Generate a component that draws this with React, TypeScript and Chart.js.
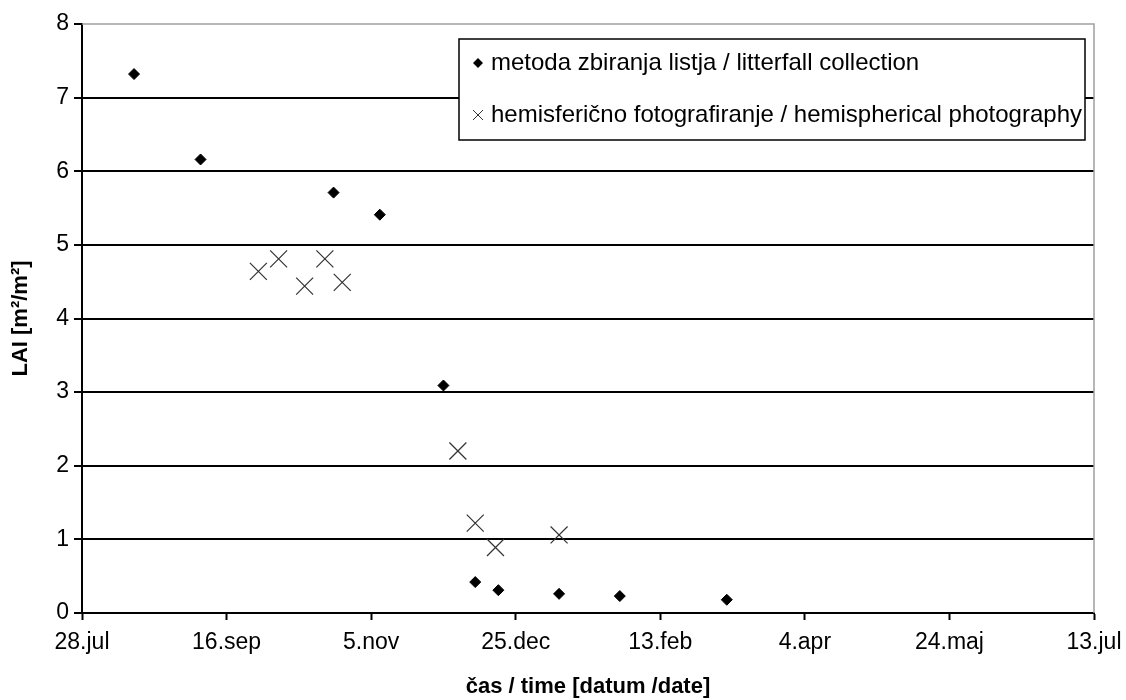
import React, { useEffect, useRef } from "react";
import { Chart, registerables } from "chart.js";

Chart.register(...registerables);

// x values are days counted from 28 July
const tickLabels = ["28.jul", "16.sep", "5.nov", "25.dec", "13.feb", "4.apr", "24.maj", "13.jul"];

const litterfallDays = [18, 41, 87, 103, 125, 136, 144, 165, 186, 223];
const litterfallLAI = [7.32, 6.16, 5.71, 5.41, 3.09, 0.42, 0.31, 0.26, 0.23, 0.18];

const photoDays = [61, 68, 77, 84, 90, 130, 136, 143, 165];
const photoLAI = [4.64, 4.81, 4.44, 4.81, 4.49, 2.2, 1.22, 0.89, 1.06];

const seriesNames = [
  "metoda zbiranja listja / litterfall collection",
  "hemisferično fotografiranje / hemispherical photography",
];

const FONT = "'Liberation Sans', Arial, sans-serif";

const legendPlugin = {
  id: "boxLegend",
  afterDraw(chart: any) {
    const { ctx, chartArea } = chart;
    const x0 = chartArea.right - 635;
    const y0 = chartArea.top + 15;
    const w = 626;
    const h = 101;
    ctx.save();
    ctx.fillStyle = "#fff";
    ctx.fillRect(x0, y0, w, h);
    ctx.strokeStyle = "#000";
    ctx.lineWidth = 1.5;
    ctx.strokeRect(x0, y0, w, h);
    // row 1 marker: diamond
    const mx = x0 + 19;
    const r1 = y0 + 24;
    const r2 = y0 + 76;
    ctx.fillStyle = "#000";
    ctx.beginPath();
    ctx.moveTo(mx, r1 - 5);
    ctx.lineTo(mx + 5, r1);
    ctx.lineTo(mx, r1 + 5);
    ctx.lineTo(mx - 5, r1);
    ctx.closePath();
    ctx.fill();
    // row 2 marker: x
    ctx.strokeStyle = "#333";
    ctx.lineWidth = 1;
    ctx.beginPath();
    ctx.moveTo(mx - 5, r2 - 5);
    ctx.lineTo(mx + 5, r2 + 5);
    ctx.moveTo(mx + 5, r2 - 5);
    ctx.lineTo(mx - 5, r2 + 5);
    ctx.stroke();
    ctx.fillStyle = "#000";
    ctx.font = `24px ${FONT}`;
    ctx.textBaseline = "middle";
    ctx.textAlign = "left";
    ctx.fillText(chart.data.datasets[0].label, mx + 13, r1);
    ctx.fillText(chart.data.datasets[1].label, mx + 13, r2);
    ctx.restore();
  },
};

const borderPlugin = {
  id: "grayBorder",
  afterDatasetsDraw(chart: any) {
    const { ctx, chartArea } = chart;
    ctx.save();
    ctx.strokeStyle = "#a0a0a0";
    ctx.lineWidth = 1.5;
    ctx.beginPath();
    ctx.moveTo(chartArea.left, chartArea.top);
    ctx.lineTo(chartArea.right, chartArea.top);
    ctx.lineTo(chartArea.right, chartArea.bottom);
    ctx.stroke();
    ctx.restore();
  },
};

export default function App() {
  const ref = useRef<HTMLCanvasElement | null>(null);
  useEffect(() => {
    document.body.style.margin = "0";
    const canvas = ref.current;
    if (!canvas) return;
    const chart = new Chart(canvas, {
      type: "scatter",
      data: {
        datasets: [
          {
            label: seriesNames[0],
            data: litterfallDays.map((d, i) => ({ x: d, y: litterfallLAI[i] })),
            pointStyle: "rectRot",
            pointRadius: 5.5,
            backgroundColor: "#000",
            borderColor: "#000",
            borderWidth: 1,
          },
          {
            label: seriesNames[1],
            data: photoDays.map((d, i) => ({ x: d, y: photoLAI[i] })),
            pointStyle: "crossRot",
            pointRadius: 12,
            backgroundColor: "#333",
            borderColor: "#333",
            borderWidth: 1.2,
          },
        ],
      },
      options: {
        responsive: false,
        animation: false,
        events: [],
        layout: { padding: { left: 0, top: 24, right: 32, bottom: 0 } },
        plugins: {
          legend: { display: false },
          tooltip: { enabled: false },
        },
        scales: {
          x: {
            type: "linear",
            min: 0,
            max: 350,
            afterFit: (s: any) => {
              s.height = 87;
              s.paddingLeft = 0;
              s.paddingRight = 0;
            },
            ticks: {
              stepSize: 50,
              autoSkip: false,
              maxRotation: 0,
              padding: 9,
              color: "#000",
              font: { family: FONT, size: 23 },
              callback: (v: any) => tickLabels[Math.round(Number(v) / 50)] ?? "",
            },
            grid: {
              drawOnChartArea: false,
              drawTicks: true,
              tickLength: 7,
              tickColor: "#000",
              tickWidth: 2,
            },
            border: { display: true, color: "#000", width: 2 },
            title: {
              display: true,
              text: "čas / time [datum /date]",
              color: "#000",
              font: { family: FONT, size: 22, weight: "bold" },
              padding: { top: 0, bottom: 0 },
            },
          },
          y: {
            min: 0,
            max: 8,
            afterFit: (s: any) => {
              s.width = 82;
              s.paddingTop = 0;
              s.paddingBottom = 0;
            },
            ticks: {
              stepSize: 1,
              padding: 5,
              color: "#000",
              font: { family: FONT, size: 23 },
            },
            grid: {
              color: (c: any) => (c.tick && c.tick.value === 8 ? "rgba(0,0,0,0)" : "#000"),
              lineWidth: 2,
              tickLength: 8,
              tickColor: "#000",
              tickWidth: 2,
            },
            border: { display: true, color: "#000", width: 2 },
            title: {
              display: true,
              text: "LAI [m²/m²]",
              color: "#000",
              font: { family: FONT, size: 22, weight: "bold" },
              padding: { top: 8, bottom: 0 },
            },
          },
        },
      },
      plugins: [borderPlugin, legendPlugin],
    });
    return () => chart.destroy();
  }, []);
  return (
    <div style={{ width: 1126, height: 700 }}>
      <canvas ref={ref} width={1126} height={700} style={{ display: "block" }} />
    </div>
  );
}
